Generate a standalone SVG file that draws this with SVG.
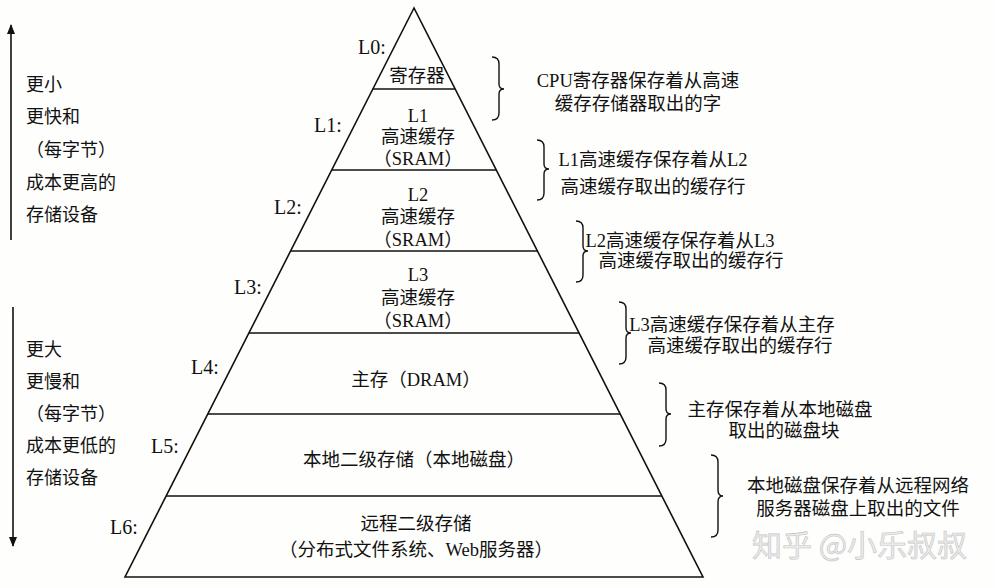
<svg xmlns="http://www.w3.org/2000/svg" width="996" height="588" viewBox="0 0 996 588">
<defs>
<style>
.t{font-family:"Liberation Serif","Noto Sans CJK SC",serif;font-size:18.5px;fill:#111;text-anchor:middle}
.l{font-family:"Liberation Serif","Noto Sans CJK SC",serif;font-size:18px;fill:#111;text-anchor:start}
.lv{font-family:"Liberation Serif","Noto Sans CJK SC",serif;font-size:20px;fill:#111;text-anchor:start}
.ln{stroke:#111;stroke-width:1.6;fill:none}
.br{stroke:#111;stroke-width:1.4;fill:none}
.wm{font-family:"Noto Sans CJK SC","Noto Sans",sans-serif;font-size:30px;fill:#ececec;stroke:#c4c4c4;stroke-width:0.6}
</style>
<marker id="ah" viewBox="0 0 10 10" refX="9" refY="5" markerWidth="10" markerHeight="10" markerUnits="userSpaceOnUse" orient="auto">
<path d="M0,1 L10,5 L0,9 z" fill="#111"/>
</marker>
</defs>
<rect width="996" height="588" fill="#fefefc"/>

<g id="pyramid">
<polygon class="ln" points="414,8 125,577 703,577"/>
</g>

<g id="L0">
<line class="ln" x1="372.9" y1="89" x2="455.1" y2="89"/>
<text class="lv" x="358" y="54">L0:</text>
<text class="t" x="417" y="82">寄存器</text>
</g>
<g id="L1">
<line class="ln" x1="331.7" y1="170" x2="496.3" y2="170"/>
<text class="lv" x="314" y="132">L1:</text>
<text class="t" x="418" y="122">L1</text>
<text class="t" x="418" y="143">高速缓存</text>
<text class="t" x="418" y="165">（SRAM）</text>
</g>
<g id="L2">
<line class="ln" x1="290.6" y1="251" x2="537.4" y2="251"/>
<text class="lv" x="274" y="214">L2:</text>
<text class="t" x="418" y="201">L2</text>
<text class="t" x="418" y="223">高速缓存</text>
<text class="t" x="418" y="246">（SRAM）</text>
</g>
<g id="L3">
<line class="ln" x1="248.9" y1="333" x2="579.1" y2="333"/>
<text class="lv" x="234" y="294">L3:</text>
<text class="t" x="418" y="281">L3</text>
<text class="t" x="418" y="304">高速缓存</text>
<text class="t" x="418" y="327">（SRAM）</text>
</g>
<g id="L4">
<line class="ln" x1="207.8" y1="414" x2="620.2" y2="414"/>
<text class="lv" x="191" y="374">L4:</text>
<text class="t" x="416" y="386">主存（DRAM）</text>
</g>
<g id="L5">
<line class="ln" x1="166.1" y1="496" x2="661.9" y2="496"/>
<text class="lv" x="151" y="453">L5:</text>
<text class="t" x="414" y="466">本地二级存储（本地磁盘）</text>
</g>
<g id="L6">
<text class="lv" x="110" y="534">L6:</text>
<text class="t" x="416" y="530">远程二级存储</text>
<text class="t" x="416" y="556">（分布式文件系统、Web服务器）</text>
</g>

<g id="descriptions">
<text class="t" x="638" y="87">CPU寄存器保存着从高速</text>
<text class="t" x="638" y="110">缓存存储器取出的字</text>
<text class="t" x="653" y="166">L1高速缓存保存着从L2</text>
<text class="t" x="653" y="193">高速缓存取出的缓存行</text>
<text class="t" x="680" y="247">L2高速缓存保存着从L3</text>
<text class="t" x="691" y="267">高速缓存取出的缓存行</text>
<text class="t" x="732" y="331">L3高速缓存保存着从主存</text>
<text class="t" x="740" y="352">高速缓存取出的缓存行</text>
<text class="t" x="780" y="416">主存保存着从本地磁盘</text>
<text class="t" x="784" y="437">取出的磁盘块</text>
<text class="t" x="858" y="492">本地磁盘保存着从远程网络</text>
<text class="t" x="858" y="515">服务器磁盘上取出的文件</text>
</g>

<g id="braces">
<path class="br" d="M492,57 Q499,57 499,64 L499,84 Q499,89 504,89 Q499,89 499,94 L499,113 Q499,120 492,120"/>
<path class="br" d="M537,140 Q544,140 544,147 L544,164 Q544,169 549,169 Q544,169 544,174 L544,193 Q544,200 537,200"/>
<path class="br" d="M576,221 Q583,221 583,228 L583,246 Q583,251 588,251 Q583,251 583,256 L583,275 Q583,282 576,282"/>
<path class="br" d="M619,302 Q626,302 626,309 L626,328 Q626,333 631,333 Q626,333 626,338 L626,357 Q626,364 619,364"/>
<path class="br" d="M659,383 Q666,383 666,390 L666,409 Q666,414 671,414 Q666,414 666,419 L666,439 Q666,446 659,446"/>
<path class="br" d="M711,455 Q718,455 718,462 L718,490 Q718,496 723,496 Q718,496 718,502 L718,530 Q718,537 711,537"/>
</g>

<g id="connectors">
<line class="ln" x1="11" y1="240" x2="11" y2="25" marker-end="url(#ah)"/>
<line class="ln" x1="13" y1="307" x2="13" y2="546" marker-end="url(#ah)"/>
</g>

<g id="side-notes">
<text class="l" x="26" y="91">更小</text>
<text class="l" x="26" y="123">更快和</text>
<text class="l" x="26" y="156">（每字节）</text>
<text class="l" x="26" y="189">成本更高的</text>
<text class="l" x="26" y="221">存储设备</text>
<text class="l" x="26" y="356">更大</text>
<text class="l" x="26" y="388">更慢和</text>
<text class="l" x="26" y="420">（每字节）</text>
<text class="l" x="26" y="452">成本更低的</text>
<text class="l" x="26" y="484">存储设备</text>
</g>

<text class="wm" x="752" y="556">知乎 @小乐叔叔</text>
</svg>
